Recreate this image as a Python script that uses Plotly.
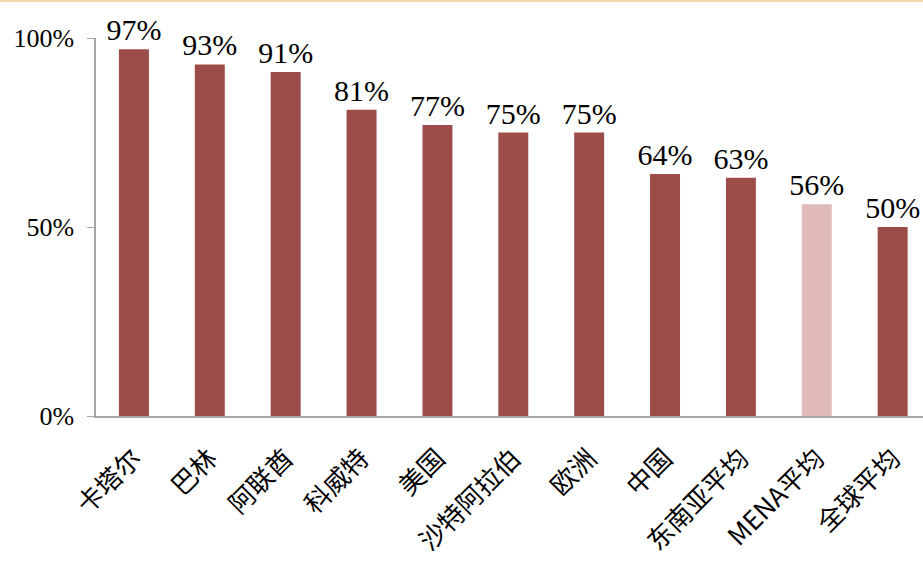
import plotly.graph_objects as go

categories = ["卡塔尔", "巴林", "阿联酋", "科威特", "美国", "沙特阿拉伯", "欧洲", "中国", "东南亚平均", "MENA平均", "全球平均"]
values = [0.97, 0.93, 0.91, 0.81, 0.77, 0.75, 0.75, 0.64, 0.63, 0.56, 0.50]
labels = ["97%", "93%", "91%", "81%", "77%", "75%", "75%", "64%", "63%", "56%", "50%"]
tick_vals = [0, 0.5, 1.0]
tick_text = ["0%", "50%", "100%"]

main_color = "#9c4d4a"
highlight_color = "#e0b9b9"
colors = [highlight_color if c == "MENA平均" else main_color for c in categories]

serif = "Liberation Serif, Noto Serif CJK SC, Noto Sans CJK SC, serif"

fig = go.Figure(go.Bar(
    x=categories, y=values, text=labels, textposition="outside",
    textfont=dict(family=serif, size=30, color="black"),
    constraintext="none",
    marker=dict(color=colors, line=dict(width=0)),
    cliponaxis=False, width=0.395,
))

W, H = 923, 564
ml, mr, mt, mb = 96, 0, 38, 148
ph = H - mt - mb

fig.update_layout(
    width=W, height=H,
    margin=dict(l=ml, r=mr, t=mt, b=mb, autoexpand=False),
    paper_bgcolor="white", plot_bgcolor="white",
    showlegend=False,
    font=dict(family=serif, color="black"),
    xaxis=dict(
        range=[-0.5, 10.4],
        showline=True, linecolor="#a6a6a6", linewidth=1.5,
        ticks="", tickangle=-45, automargin=False, ticklabelstandoff=15,
        tickfont=dict(family="Noto Sans CJK SC, " + serif, size=26, color="black"),
        showgrid=False,
    ),
    yaxis=dict(
        range=[0, 1.0], tickvals=tick_vals, ticktext=tick_text,
        showline=True, linecolor="#a6a6a6", linewidth=1.5,
        ticks="outside", ticklen=7, tickcolor="#a6a6a6", automargin=False,
        ticklabelstandoff=8,
        tickfont=dict(family=serif, size=26, color="black"),
        showgrid=False, zeroline=False,
    ),
    shapes=[dict(type="line", xref="paper", yref="paper",
                 x0=-ml / (W - ml), x1=1, y0=1 + (mt - 1) / ph, y1=1 + (mt - 1) / ph,
                 line=dict(color="#f3d9ab", width=2))],
)

fig.write_html("out.html", config={"displayModeBar": False},
               post_script="document.body.style.margin='0';document.body.style.overflow='hidden';")
